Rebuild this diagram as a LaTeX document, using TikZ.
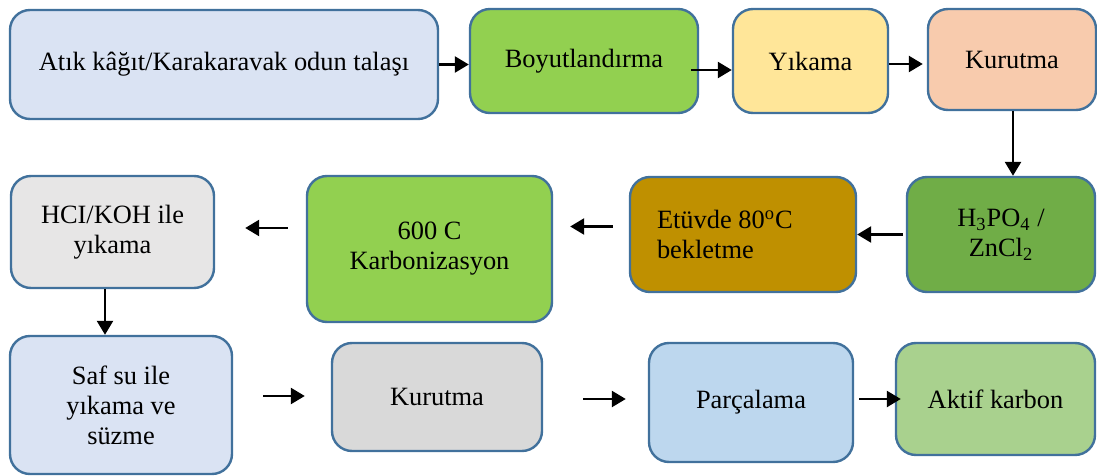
\documentclass[tikz,border=0pt]{standalone}
\usepackage{fontspec}
\setmainfont{Liberation Serif}
\usepackage{tikz}
\usetikzlibrary{arrows.meta}
\usetikzlibrary{positioning}
\definecolor{bordo}{HTML}{41719C}
\definecolor{lblue}{HTML}{DAE3F3}
\definecolor{lgreen}{HTML}{92D050}
\definecolor{lyellow}{HTML}{FFE699}
\definecolor{lpeach}{HTML}{F8CBAD}
\definecolor{lgray}{HTML}{E7E6E6}
\definecolor{mgray}{HTML}{D9D9D9}
\definecolor{gold}{HTML}{BF9000}
\definecolor{dgreen}{HTML}{70AD47}
\definecolor{sky}{HTML}{BDD7EE}
\definecolor{sage}{HTML}{A9D18E}

\begin{document}
\begin{tikzpicture}[x=0.5pt, y=-0.5pt,
  box/.style={draw=bordo, line width=1.2pt, rounded corners=10pt, align=center, font=\fontsize{13.2}{15}\selectfont},
  arr/.style={-{Triangle[length=7pt,width=8pt]}, line width=1.3pt}]
\useasboundingbox (0,0) rectangle (1097,476);

\node (atik) at (224,64.5) [box, fill=lblue, minimum width=214pt, minimum height=54.5pt] {Atık kâğıt/Karakaravak odun talaşı};
\node (boy) at (584,61) [box, fill=lgreen, minimum width=114pt, minimum height=52pt] {Boyutlandırma};
\node (yik) at (810.5,61) [box, fill=lyellow, minimum width=77.5pt, minimum height=52pt] {Yıkama};
\node (kur1) at (1012,59.5) [box, fill=lpeach, minimum width=84pt, minimum height=50.5pt] {Kurutma};

\node (hcl) at (112.5,232) [box, fill=lgray, minimum width=101.5pt, minimum height=56pt] {HCI/KOH ile\\yıkama};
\node (krb) at (429.5,249) [box, fill=lgreen, minimum width=122.5pt, minimum height=73pt] {600 C\\Karbonizasyon};
\node (etv) at (743,234.5) [box, fill=gold, text width=86pt, inner xsep=13.5pt, align=flush left, minimum height=57.5pt] {Etüvde 80\textsuperscript{o}C\\bekletme};
\node (h3) at (1001,234.5) [box, fill=dgreen, minimum width=94pt, minimum height=57.5pt] {H\textsubscript{3}PO\textsubscript{4} /\\ZnCl\textsubscript{2}};

\node (saf) at (121,405) [box, fill=lblue, minimum width=111pt, minimum height=69pt] {Saf su ile\\yıkama ve\\süzme};
\node (kur2) at (437,397) [box, fill=mgray, minimum width=105pt, minimum height=54pt] {Kurutma};
\node (prc) at (751,402.5) [box, fill=sky, minimum width=102pt, minimum height=59.5pt] {Parçalama};
\node (akt) at (995.5,399) [box, fill=sage, minimum width=99.5pt, minimum height=56pt] {Aktif karbon};

%\draw [arr] (atik) -- (boy);
\draw [arr] (atik.east) -- (atik.east -| boy.west);
\draw [arr, shorten <=-4pt] ([yshift=-4.5pt]boy.east) -- ([yshift=-4.5pt]boy.east -| yik.west);
\draw [arr, shorten >=2pt] ([yshift=-1.5pt]yik.east) -- ([yshift=-1.5pt]yik.east -| kur1.west);
\draw [arr] ([xshift=0.5pt]kur1.south) -- ([xshift=0.5pt]kur1.south |- h3.north);
\draw [arr, shorten <=1.5pt] (h3.west) -- (etv.west -| etv.east);
\draw [arr, shorten <=8pt, shorten >=8.5pt] ([yshift=4pt]etv.west) -- ([yshift=4pt]etv.west -| krb.east);
\draw [arr, shorten <=9pt, shorten >=15pt] ([yshift=10.5pt]krb.west) -- ([yshift=10.5pt]krb.west -| hcl.east);
\draw [arr] ([xshift=-3.75pt]hcl.south) -- ([xshift=-3.75pt]hcl.south |- saf.north);
\draw [arr, shorten <=15pt, shorten >=13pt] ([yshift=4.5pt]saf.east) -- ([yshift=4.5pt]saf.east -| kur2.west);
\draw [arr, shorten <=20pt, shorten >=11pt] ([yshift=-1pt]kur2.east) -- ([yshift=-1pt]kur2.east -| prc.west);
\draw [arr, shorten <=2.5pt, shorten >=-3pt] ([yshift=1.75pt]prc.east) -- ([yshift=1.75pt]prc.east -| akt.west);
\end{tikzpicture}
\end{document}
